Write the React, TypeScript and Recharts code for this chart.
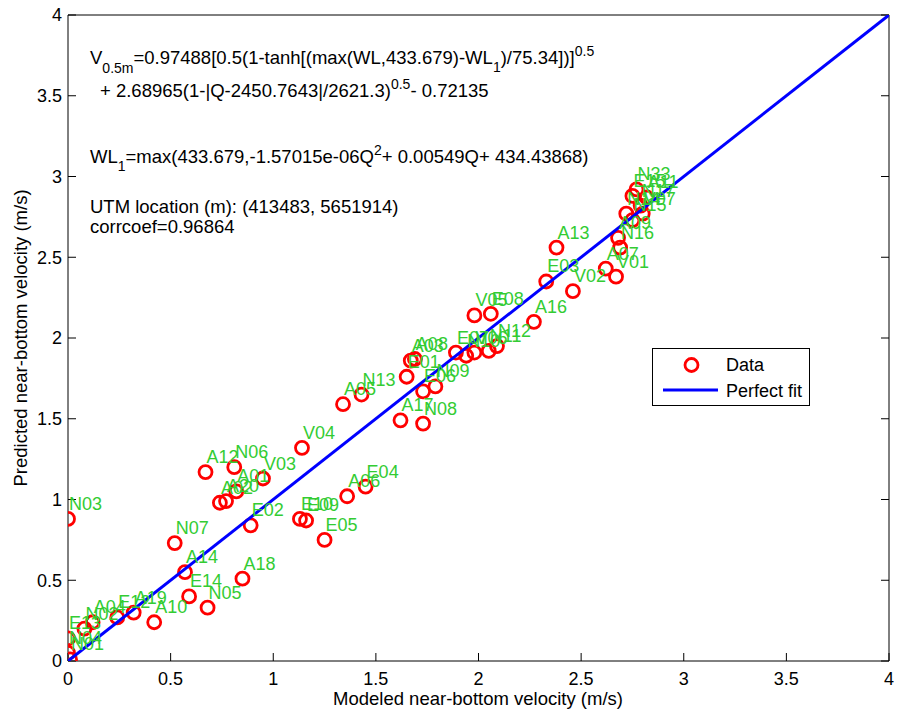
import React from 'react';
import { ScatterChart, Scatter, XAxis, YAxis } from 'recharts';

// station labels and velocities (m/s)
const pointLabels = [
  'N03', 'E13', 'N04', 'N01', 'N02', 'A04', 'E12', 'A19', 'A10', 'N07',
  'A14', 'E14', 'N05', 'A18', 'E02', 'A12', 'N06', 'V03', 'A01', 'A02',
  'A20', 'V04', 'A05', 'N13', 'E04', 'A06', 'E10', 'E09', 'E05', 'A17',
  'N08', 'E06', 'N09', 'E01', 'A03', 'A08', 'E07', 'N10', 'V06', 'N11',
  'N12', 'V05', 'E08', 'A16', 'E03', 'V02', 'A13', 'A07', 'V01', 'A09',
  'N16', 'N14', 'N15', 'E15', 'N33', 'V07', 'N17', 'A11',
];
const modeledVelocity = [
  0.0, 0.0, 0.0, 0.01, 0.08, 0.12, 0.24, 0.32, 0.42, 0.52,
  0.57, 0.59, 0.68, 0.85, 0.89, 0.67, 0.81, 0.95, 0.82, 0.74,
  0.77, 1.14, 1.34, 1.43, 1.45, 1.36, 1.13, 1.16, 1.25, 1.62,
  1.73, 1.73, 1.79, 1.65, 1.67, 1.69, 1.89, 1.94, 1.98, 2.05,
  2.09, 1.98, 2.06, 2.27, 2.33, 2.46, 2.38, 2.62, 2.67, 2.68,
  2.69, 2.72, 2.75, 2.75, 2.77, 2.8, 2.79, 2.82,
];
const predictedVelocity = [
  0.88, 0.14, 0.05, 0.01, 0.2, 0.24, 0.27, 0.3, 0.24, 0.73,
  0.55, 0.4, 0.33, 0.51, 0.84, 1.17, 1.2, 1.13, 1.05, 0.98,
  0.99, 1.32, 1.59, 1.65, 1.08, 1.02, 0.88, 0.87, 0.75, 1.49,
  1.47, 1.67, 1.7, 1.76, 1.86, 1.87, 1.91, 1.89, 1.91, 1.92,
  1.95, 2.14, 2.15, 2.1, 2.35, 2.29, 2.56, 2.43, 2.38, 2.62,
  2.56, 2.77, 2.73, 2.88, 2.92, 2.77, 2.82, 2.87,
];
const axisTicks = [0, 0.5, 1, 1.5, 2, 2.5, 3, 3.5, 4];
const fitEnds = [0, 4];

const points = pointLabels.map((name, i) => ({
  name,
  x: modeledVelocity[i],
  y: predictedVelocity[i],
}));
const fitLine = fitEnds.map((v) => ({ x: v, y: v }));

const FONT = 'Arial, "Liberation Sans", Helvetica, sans-serif';
const tickStyle = { fill: '#000', fontSize: 18, fontFamily: FONT };
const axisStroke = { stroke: '#000', strokeWidth: 1 };

const RedCircle = (props: any) => (
  <circle cx={props.cx} cy={props.cy} r={6.5} fill='none' stroke='#ff0000' strokeWidth={2.8} />
);

const PointLabel = (props: any) => (
  <text x={props.cx + 1} y={props.cy - 9} fill='#33cc33' fontSize={18} fontFamily={FONT}>
    {props.payload.name}
  </text>
);

const NoTick = () => <g />;

export default function App() {
  return (
    <div style={{ position: 'absolute', left: 0, top: 0, width: 897, height: 715, background: '#fff' }}>
      <ScatterChart width={897} height={715} margin={{ top: 0, right: 0, bottom: 0, left: 0 }}>
        <XAxis
          dataKey='x'
          type='number'
          domain={[0, 4]}
          ticks={axisTicks}
          interval={0}
          allowDataOverflow
          height={54}
          tickSize={-8}
          tickMargin={19}
          tick={tickStyle}
          axisLine={axisStroke}
          tickLine={axisStroke}
        />
        <XAxis
          xAxisId='top'
          orientation='top'
          type='number'
          domain={[0, 4]}
          ticks={axisTicks}
          interval={0}
          allowDataOverflow
          height={15}
          tickSize={-8}
          tick={NoTick}
          axisLine={axisStroke}
          tickLine={axisStroke}
        />
        <YAxis
          dataKey='y'
          type='number'
          domain={[0, 4]}
          ticks={axisTicks}
          interval={0}
          allowDataOverflow
          width={68}
          tickSize={-8}
          tickMargin={14}
          tick={tickStyle}
          axisLine={axisStroke}
          tickLine={axisStroke}
        />
        <YAxis
          yAxisId='right'
          orientation='right'
          type='number'
          domain={[0, 4]}
          ticks={axisTicks}
          interval={0}
          allowDataOverflow
          width={8}
          tickSize={-8}
          tick={NoTick}
          axisLine={axisStroke}
          tickLine={axisStroke}
        />
        <Scatter data={points} shape={RedCircle} isAnimationActive={false} />
        <Scatter
          data={fitLine}
          line={{ stroke: '#0000ff', strokeWidth: 3 }}
          shape={NoTick}
          isAnimationActive={false}
        />
        <Scatter data={points} shape={PointLabel} isAnimationActive={false} />
      </ScatterChart>

      <svg
        width={897}
        height={715}
        style={{ position: 'absolute', left: 0, top: 0, pointerEvents: 'none' }}
        fontFamily={FONT}
        fontSize={18.5}
        fill='#000'
      >
        <text x={90} y={64}>
          V<tspan fontSize={14} dy={9}>0.5m</tspan>
          <tspan dy={-9}>=0.97488[0.5(1-tanh[(max(WL,433.679)-WL</tspan>
          <tspan fontSize={14} dy={8}>1</tspan>
          <tspan dy={-8}>)/75.34])]</tspan>
          <tspan fontSize={14} dy={-8}>0.5</tspan>
        </text>
        <text x={100} y={97}>
          + 2.68965(1-|Q-2450.7643|/2621.3)
          <tspan fontSize={14} dy={-8}>0.5</tspan>
          <tspan dy={8}>- 0.72135</tspan>
        </text>
        <text x={90} y={163}>
          WL<tspan fontSize={14} dy={8}>1</tspan>
          <tspan dy={-8}>=max(433.679,-1.57015e-06Q</tspan>
          <tspan fontSize={14} dy={-8}>2</tspan>
          <tspan dy={8}>+ 0.00549Q+ 434.43868)</tspan>
        </text>
        <text x={90} y={213}>UTM location (m): (413483, 5651914)</text>
        <text x={90} y={233}>corrcoef=0.96864</text>

        <text x={478} y={705} textAnchor='middle'>Modeled near-bottom velocity (m/s)</text>
        <text transform='translate(27, 338) rotate(-90)' textAnchor='middle'>
          Predicted near-bottom velocity (m/s)
        </text>

        <rect x={652.5} y={348.5} width={157} height={57} fill='#fff' stroke='#000' strokeWidth={1} />
        <circle cx={691.5} cy={365} r={6.5} fill='none' stroke='#ff0000' strokeWidth={2.8} />
        <line x1={663} y1={390} x2={718} y2={390} stroke='#0000ff' strokeWidth={3} />
        <text x={726} y={371} fontSize={18}>Data</text>
        <text x={726} y={397} fontSize={18}>Perfect fit</text>
      </svg>
    </div>
  );
}
